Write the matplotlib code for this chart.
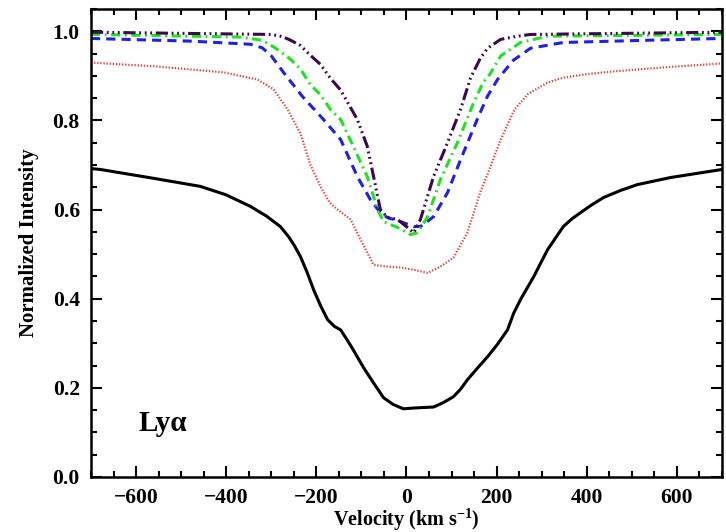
import matplotlib
matplotlib.use("Agg")
import matplotlib.pyplot as plt
from matplotlib.ticker import MultipleLocator

plt.rcParams['font.family'] = ['Liberation Serif', 'DejaVu Serif']
plt.rcParams['font.weight'] = 'bold'
plt.rcParams['mathtext.fontset'] = 'custom'
plt.rcParams['mathtext.rm'] = 'Liberation Serif:bold'
plt.rcParams['mathtext.it'] = 'Liberation Serif:italic:bold'
plt.rcParams['mathtext.bf'] = 'Liberation Serif:bold'

# black solid profile
v_black = [-700, -679, -560, -457, -400, -346, -310, -280, -262, -248, -235, -220, -206, -190, -175,
           -160, -146, -130, -118, -95, -73, -51, -30, -7, 20, 40, 60, 80, 104, 120, 135, 158, 180,
           202, 224, 238, 254, 282, 313, 348, 368, 386, 410, 437, 475, 512, 586, 700]
i_black = [0.692, 0.690, 0.670, 0.652, 0.633, 0.607, 0.585, 0.562, 0.540, 0.518, 0.494, 0.458,
           0.420, 0.383, 0.353, 0.338, 0.330, 0.305, 0.285, 0.245, 0.211, 0.178, 0.163, 0.153, 0.155,
           0.156, 0.157, 0.166, 0.180, 0.197, 0.218, 0.245, 0.270, 0.298, 0.330, 0.368, 0.400, 0.449,
           0.510, 0.562, 0.580, 0.593, 0.610, 0.627, 0.643, 0.656, 0.672, 0.690]

# red dotted
v_red = [-700, -553, -406, -331, -295, -264, -235, -213, -191, -170, -153, -124, -102, -73, -42,
         -13, 16, 47, 75, 104, 135, 164, 180, 209, 240, 270, 313, 348, 400, 459, 570, 700]
i_red = [0.930, 0.921, 0.908, 0.892, 0.870, 0.825, 0.770, 0.700, 0.652, 0.615, 0.600, 0.578, 0.533,
         0.476, 0.472, 0.470, 0.465, 0.458, 0.472, 0.492, 0.548, 0.640, 0.680, 0.757, 0.825, 0.860,
         0.885, 0.896, 0.904, 0.910, 0.919, 0.928]

# blue dashed
v_blue = [-700, -479, -346, -320, -300, -273, -231, -184, -146, -109, -80, -58, -42, -13, 16, 31,
          60, 91, 120, 158, 180, 202, 237, 275, 348, 535, 700]
i_blue = [0.984, 0.978, 0.971, 0.963, 0.945, 0.908, 0.854, 0.802, 0.757, 0.674, 0.622, 0.593,
          0.582, 0.573, 0.562, 0.562, 0.584, 0.638, 0.712, 0.805, 0.855, 0.892, 0.935, 0.962, 0.975,
          0.980, 0.984]

# green dash-dot
v_green = [-700, -368, -320, -290, -257, -235, -213, -191, -169, -146, -118, -87, -64, -51, -20, 9,
           24, 47, 75, 113, 149, 170, 186, 209, 224, 253, 313, 700]
i_green = [0.993, 0.987, 0.980, 0.962, 0.937, 0.915, 0.880, 0.858, 0.825, 0.802, 0.742, 0.674,
           0.600, 0.573, 0.560, 0.544, 0.548, 0.584, 0.667, 0.750, 0.840, 0.885, 0.905, 0.945, 0.955,
           0.975, 0.989, 0.993]

# purple dash-dot-dot-dot
v_purple = [-700, -300, -275, -257, -235, -213, -191, -169, -146, -109, -87, -73, -58, -42, -20, 2,
            16, 31, 60, 91, 120, 142, 164, 180, 209, 246, 275, 700]
i_purple = [0.998, 0.993, 0.988, 0.980, 0.968, 0.946, 0.926, 0.895, 0.868, 0.802, 0.742, 0.674,
            0.600, 0.582, 0.578, 0.560, 0.548, 0.578, 0.674, 0.750, 0.825, 0.895, 0.940, 0.962,
            0.982, 0.989, 0.993, 0.998]

fig = plt.figure(figsize=(7.26, 5.32), dpi=100)
ax = fig.add_axes([0.1253, 0.1034, 0.8692, 0.8796])

ax.plot(v_black, i_black, color='black', lw=2.2, ls='-')
ax.plot(v_red, i_red, color='#e8403a', lw=1.6, ls=(0, (0.6, 0.8)))
ax.plot(v_blue, i_blue, color='#2020e0', lw=2.2, ls=(0, (3, 2)))
ax.plot(v_green, i_green, color='#22e022', lw=2.2, ls=(0, (3, 1.5, 0.6, 1.5)))
ax.plot(v_purple, i_purple, color='#3a0a4a', lw=2.2,
        ls=(0, (4, 1.2, 0.6, 1.2, 0.6, 1.2, 0.6, 1.2)))

ax.set_xlim(-700, 700)
ax.set_ylim(0, 1.05)
ax.xaxis.set_minor_locator(MultipleLocator(50))
ax.yaxis.set_minor_locator(MultipleLocator(0.05))
ax.set_xticks([-600, -400, -200, 0, 200, 400, 600])
ax.set_xticklabels(['\u2212600', '\u2212400', '\u2212200', '0', '200', '400', '600'])
ax.set_yticks([0.0, 0.2, 0.4, 0.6, 0.8, 1.0])
ax.set_yticklabels(['0.0', '0.2', '0.4', '0.6', '0.8', '1.0'])

ax.tick_params(which='both', direction='in', top=True, right=True, width=1.5)
ax.tick_params(which='major', length=8, labelsize=15.5, pad=8)
ax.tick_params(which='minor', length=4)
for s in ax.spines.values():
    s.set_linewidth(1.8)
for lab in ax.get_xticklabels() + ax.get_yticklabels():
    lab.set_fontweight('bold')

ax.set_xlabel('Velocity (km s$^{-1}$)', fontsize=14.5, fontweight='bold', labelpad=-1)
ax.set_ylabel('Normalized Intensity', fontsize=15, fontweight='bold', labelpad=10)

ax.text(-595, 0.12, 'Ly\u03b1', fontsize=21, fontweight='bold', va='center')

fig.savefig('out.png', dpi=100)
